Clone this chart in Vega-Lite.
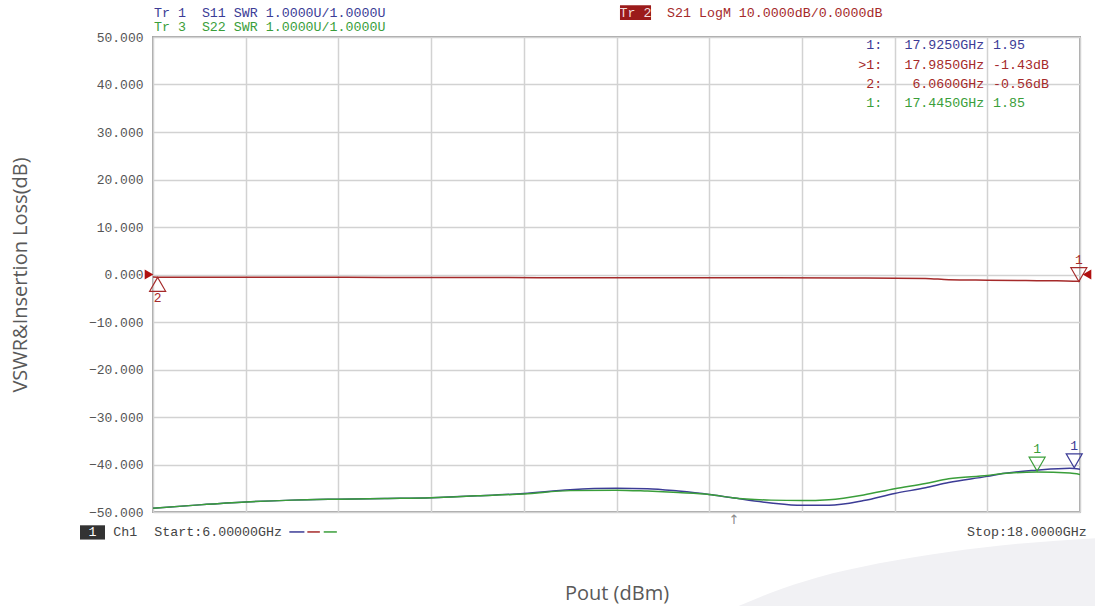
{
  "$schema": "https://vega.github.io/schema/vega-lite/v6.json",
  "width": 927,
  "height": 475,
  "autosize": {"type": "none"},
  "padding": {"left": 153, "top": 37, "right": 15, "bottom": 94},
  "background": "white",
  "config": {
    "view": {"stroke": "#a6a6a6", "strokeWidth": 2},
    "axis": {"gridColor": "#d2d2d2", "gridWidth": 1.5, "gridOpacity": 1}
  },
  "datasets": {
    "traces": [
      {"f": 6.0, "v": -0.55, "trace": "S21"}, {"f": 6.06, "v": -0.56, "trace": "S21"}, {"f": 7.0, "v": -0.56, "trace": "S21"},
      {"f": 8.0, "v": -0.58, "trace": "S21"}, {"f": 9.0, "v": -0.62, "trace": "S21"}, {"f": 10.0, "v": -0.64, "trace": "S21"},
      {"f": 11.0, "v": -0.66, "trace": "S21"}, {"f": 12.0, "v": -0.66, "trace": "S21"}, {"f": 13.0, "v": -0.68, "trace": "S21"},
      {"f": 14.0, "v": -0.7, "trace": "S21"}, {"f": 15.0, "v": -0.74, "trace": "S21"}, {"f": 16.0, "v": -0.82, "trace": "S21"},
      {"f": 16.3, "v": -1.1, "trace": "S21"}, {"f": 16.8, "v": -1.2, "trace": "S21"}, {"f": 17.3, "v": -1.28, "trace": "S21"},
      {"f": 17.7, "v": -1.33, "trace": "S21"}, {"f": 17.985, "v": -1.43, "trace": "S21"}, {"f": 18.0, "v": -1.43, "trace": "S21"},

      {"f": 6.0, "v": -49.2, "trace": "S11"}, {"f": 6.6, "v": -48.5, "trace": "S11"}, {"f": 7.2, "v": -47.9, "trace": "S11"},
      {"f": 7.8, "v": -47.5, "trace": "S11"}, {"f": 8.4, "v": -47.3, "trace": "S11"}, {"f": 9.0, "v": -47.15, "trace": "S11"},
      {"f": 9.6, "v": -47.0, "trace": "S11"}, {"f": 10.2, "v": -46.6, "trace": "S11"}, {"f": 10.8, "v": -46.1, "trace": "S11"},
      {"f": 11.4, "v": -45.3, "trace": "S11"}, {"f": 12.0, "v": -45.0, "trace": "S11"}, {"f": 12.4, "v": -45.1, "trace": "S11"},
      {"f": 12.8, "v": -45.6, "trace": "S11"}, {"f": 13.2, "v": -46.3, "trace": "S11"}, {"f": 13.5, "v": -47.0, "trace": "S11"},
      {"f": 14.0, "v": -48.1, "trace": "S11"}, {"f": 14.4, "v": -48.6, "trace": "S11"}, {"f": 14.75, "v": -48.6, "trace": "S11"},
      {"f": 15.2, "v": -47.6, "trace": "S11"}, {"f": 15.6, "v": -46.1, "trace": "S11"}, {"f": 16.0, "v": -44.9, "trace": "S11"},
      {"f": 16.3, "v": -43.8, "trace": "S11"}, {"f": 16.8, "v": -42.5, "trace": "S11"}, {"f": 17.0, "v": -41.9, "trace": "S11"},
      {"f": 17.44, "v": -41.2, "trace": "S11"}, {"f": 17.87, "v": -40.8, "trace": "S11"}, {"f": 18.0, "v": -41.0, "trace": "S11"},

      {"f": 6.0, "v": -49.2, "trace": "S22"}, {"f": 6.6, "v": -48.5, "trace": "S22"}, {"f": 7.2, "v": -47.9, "trace": "S22"},
      {"f": 7.8, "v": -47.5, "trace": "S22"}, {"f": 8.4, "v": -47.3, "trace": "S22"}, {"f": 9.0, "v": -47.15, "trace": "S22"},
      {"f": 9.6, "v": -47.0, "trace": "S22"}, {"f": 10.2, "v": -46.6, "trace": "S22"}, {"f": 10.8, "v": -46.2, "trace": "S22"},
      {"f": 11.4, "v": -45.5, "trace": "S22"}, {"f": 12.0, "v": -45.4, "trace": "S22"}, {"f": 12.4, "v": -45.6, "trace": "S22"},
      {"f": 12.8, "v": -45.9, "trace": "S22"}, {"f": 13.2, "v": -46.3, "trace": "S22"}, {"f": 13.5, "v": -47.0, "trace": "S22"},
      {"f": 14.0, "v": -47.5, "trace": "S22"}, {"f": 14.4, "v": -47.6, "trace": "S22"}, {"f": 14.75, "v": -47.4, "trace": "S22"},
      {"f": 15.2, "v": -46.4, "trace": "S22"}, {"f": 15.6, "v": -45.1, "trace": "S22"}, {"f": 16.0, "v": -44.0, "trace": "S22"},
      {"f": 16.3, "v": -43.0, "trace": "S22"}, {"f": 16.8, "v": -42.3, "trace": "S22"}, {"f": 17.0, "v": -41.9, "trace": "S22"},
      {"f": 17.44, "v": -41.6, "trace": "S22"}, {"f": 17.87, "v": -41.8, "trace": "S22"}, {"f": 18.0, "v": -42.1, "trace": "S22"}
    ],
    "markers": [
      {"f": 17.925, "v": -40.7, "trace": "S11", "label": "1", "dir": "down"},
      {"f": 17.445, "v": -41.4, "trace": "S22", "label": "1", "dir": "down"},
      {"f": 17.985, "v": -1.5, "trace": "S21", "label": "1", "dir": "down"},
      {"f": 6.06, "v": -0.6, "trace": "S21", "label": "2", "dir": "up"}
    ],
    "refs": [
      {"f": 6.0, "v": 0, "side": "left"},
      {"f": 18.0, "v": 0, "side": "right"}
    ],
    "boxes": [
      {"f": 12.045, "f2": 12.447, "v": 56.7, "v2": 53.6, "kind": "tr2"},
      {"f": 5.055, "f2": 5.379, "v": -52.8, "v2": -55.8, "kind": "ch"}
    ],
    "dashes": [
      {"f": 7.765, "f2": 7.96, "v": -54.2, "trace": "S11"},
      {"f": 7.998, "f2": 8.16, "v": -54.2, "trace": "S21"},
      {"f": 8.21, "f2": 8.38, "v": -54.2, "trace": "S22"}
    ],
    "swoosh": [
      {"f": 13.55, "v": -70.0},
      {"f": 14.0, "v": -67.0},
      {"f": 14.6, "v": -63.8},
      {"f": 15.4, "v": -60.8},
      {"f": 16.3, "v": -58.4},
      {"f": 17.2, "v": -56.7},
      {"f": 18.2, "v": -55.5}
    ],
    "texts": [
      {"f": 6.013, "v": 55.0, "text": "Tr 1\u00a0\u00a0S11 SWR 1.0000U/1.0000U", "trace": "S11", "col": "left"},
      {"f": 6.013, "v": 52.05, "text": "Tr 3\u00a0\u00a0S22 SWR 1.0000U/1.0000U", "trace": "S22", "col": "left"},
      {"f": 12.654, "v": 55.0, "text": "S21 LogM 10.0000dB/0.0000dB", "trace": "S21", "col": "left"},
      {"f": 12.246, "v": 55.15, "text": "Tr 2", "trace": "inv", "col": "center"},
      {"f": 15.44, "v": 48.25, "text": "1:", "trace": "S11", "col": "right"},
      {"f": 15.44, "v": 44.2, "text": ">1:", "trace": "S21", "col": "right"},
      {"f": 15.44, "v": 40.2, "text": "2:", "trace": "S21", "col": "right"},
      {"f": 15.44, "v": 36.2, "text": "1:", "trace": "S22", "col": "right"},
      {"f": 16.76, "v": 48.25, "text": "17.9250GHz", "trace": "S11", "col": "right"},
      {"f": 16.76, "v": 44.2, "text": "17.9850GHz", "trace": "S21", "col": "right"},
      {"f": 16.76, "v": 40.2, "text": "6.0600GHz", "trace": "S21", "col": "right"},
      {"f": 16.76, "v": 36.2, "text": "17.4450GHz", "trace": "S22", "col": "right"},
      {"f": 16.875, "v": 48.25, "text": "1.95", "trace": "S11", "col": "left"},
      {"f": 16.875, "v": 44.2, "text": "-1.43dB", "trace": "S21", "col": "left"},
      {"f": 16.875, "v": 40.2, "text": "-0.56dB", "trace": "S21", "col": "left"},
      {"f": 16.875, "v": 36.2, "text": "1.85", "trace": "S22", "col": "left"},
      {"f": 5.217, "v": -54.25, "text": "1", "trace": "white", "col": "center"},
      {"f": 5.486, "v": -54.25, "text": "Ch1", "trace": "ch", "col": "left"},
      {"f": 6.017, "v": -54.25, "text": "Start:6.00000GHz", "trace": "ch", "col": "left"},
      {"f": 18.087, "v": -54.25, "text": "Stop:18.0000GHz", "trace": "ch", "col": "right"}
    ]
  },
  "layer": [
    {
      "data": {"name": "swoosh"},
      "mark": {"type": "area", "color": "#f1f1f4", "interpolate": "monotone", "opacity": 1},
      "encoding": {
        "x": {"field": "f", "type": "quantitative"},
        "y": {"field": "v", "type": "quantitative"},
        "y2": {"datum": -70}
      }
    },
    {
      "data": {"name": "traces"},
      "mark": {"type": "line", "strokeWidth": 1.5, "interpolate": "monotone", "clip": true},
      "encoding": {
        "x": {
          "field": "f", "type": "quantitative",
          "scale": {"domain": [6, 18], "nice": false, "zero": false},
          "axis": {
            "values": [6, 7.2, 8.4, 9.6, 10.8, 12, 13.2, 14.4, 15.6, 16.8, 18],
            "labels": false, "ticks": false, "domain": false, "grid": true,
            "title": "Pout (dBm)", "titleFont": "Open Sans", "titleFontSize": 20,
            "titleFontWeight": "normal", "titleColor": "#595959",
            "titleY": 81, "titleBaseline": "middle"
          }
        },
        "y": {
          "field": "v", "type": "quantitative",
          "scale": {"domain": [-50, 50], "nice": false, "zero": false},
          "axis": {
            "values": [-50, -40, -30, -20, -10, 0, 10, 20, 30, 40, 50],
            "format": ".3f", "labelFont": "Liberation Mono", "labelFontSize": 13,
            "labelColor": "#555555", "labelPadding": 10, "ticks": false, "domain": false, "grid": true,
            "title": "VSWR&Insertion Loss(dB)", "titleFont": "Open Sans", "titleFontSize": 20,
            "titleFontWeight": "normal", "titleColor": "#595959",
            "titleX": -133, "titleY": 237.5, "titleAngle": 270, "titleBaseline": "middle"
          }
        },
        "detail": {"field": "trace"},
        "color": {
          "field": "trace", "type": "nominal", "legend": null,
          "scale": {"domain": ["S11", "S21", "S22", "ch", "inv", "white"], "range": ["#3c3c96", "#a52a2a", "#3a9e3a", "#444444", "#f4dcdc", "#ffffff"]}
        }
      }
    },
    {
      "data": {"name": "markers"},
      "transform": [{"filter": "datum.dir === 'down'"}],
      "mark": {"type": "point", "shape": "triangle-down", "size": 256, "filled": false, "strokeWidth": 1.2, "yOffset": -7, "opacity": 1},
      "encoding": {
        "x": {"field": "f", "type": "quantitative"},
        "y": {"field": "v", "type": "quantitative"},
        "color": {"field": "trace", "type": "nominal", "legend": null}
      }
    },
    {
      "data": {"name": "markers"},
      "transform": [{"filter": "datum.dir === 'up'"}],
      "mark": {"type": "point", "shape": "triangle-up", "size": 256, "filled": false, "strokeWidth": 1.2, "yOffset": 7, "opacity": 1},
      "encoding": {
        "x": {"field": "f", "type": "quantitative"},
        "y": {"field": "v", "type": "quantitative"},
        "color": {"field": "trace", "type": "nominal", "legend": null}
      }
    },
    {
      "data": {"name": "markers"},
      "transform": [{"filter": "datum.dir === 'down'"}],
      "mark": {"type": "text", "font": "Liberation Mono", "fontSize": 13, "dy": -22, "baseline": "middle"},
      "encoding": {
        "x": {"field": "f", "type": "quantitative"},
        "y": {"field": "v", "type": "quantitative"},
        "text": {"field": "label"},
        "color": {"field": "trace", "type": "nominal", "legend": null}
      }
    },
    {
      "data": {"name": "markers"},
      "transform": [{"filter": "datum.dir === 'up'"}],
      "mark": {"type": "text", "font": "Liberation Mono", "fontSize": 13, "dy": 21, "baseline": "middle"},
      "encoding": {
        "x": {"field": "f", "type": "quantitative"},
        "y": {"field": "v", "type": "quantitative"},
        "text": {"field": "label"},
        "color": {"field": "trace", "type": "nominal", "legend": null}
      }
    },
    {
      "data": {"name": "refs"},
      "transform": [{"filter": "datum.side === 'left'"}],
      "mark": {"type": "point", "shape": "triangle-right", "size": 100, "filled": true, "color": "#b01010", "opacity": 1, "xOffset": -4},
      "encoding": {
        "x": {"field": "f", "type": "quantitative"},
        "y": {"field": "v", "type": "quantitative"}
      }
    },
    {
      "data": {"name": "refs"},
      "transform": [{"filter": "datum.side === 'right'"}],
      "mark": {"type": "point", "shape": "triangle-left", "size": 100, "filled": true, "color": "#b01010", "opacity": 1, "xOffset": 7},
      "encoding": {
        "x": {"field": "f", "type": "quantitative"},
        "y": {"field": "v", "type": "quantitative"}
      }
    },
    {
      "data": {"name": "boxes"},
      "mark": {"type": "rect"},
      "encoding": {
        "x": {"field": "f", "type": "quantitative"},
        "x2": {"field": "f2"},
        "y": {"field": "v", "type": "quantitative"},
        "y2": {"field": "v2"},
        "fill": {"field": "kind", "type": "nominal", "legend": null,
          "scale": {"domain": ["tr2", "ch"], "range": ["#9b1b1b", "#333333"]}}
      }
    },
    {
      "data": {"name": "dashes"},
      "mark": {"type": "rule", "strokeWidth": 1.5},
      "encoding": {
        "x": {"field": "f", "type": "quantitative"},
        "x2": {"field": "f2"},
        "y": {"field": "v", "type": "quantitative"},
        "color": {"field": "trace", "type": "nominal", "legend": null}
      }
    },
    {
      "data": {"name": "texts"},
      "transform": [{"filter": "datum.col === 'left'"}],
      "mark": {"type": "text", "font": "Liberation Mono", "fontSize": 13.3, "align": "left", "baseline": "middle"},
      "encoding": {
        "x": {"field": "f", "type": "quantitative"},
        "y": {"field": "v", "type": "quantitative"},
        "text": {"field": "text"},
        "color": {"field": "trace", "type": "nominal", "legend": null}
      }
    },
    {
      "data": {"name": "texts"},
      "transform": [{"filter": "datum.col === 'right'"}],
      "mark": {"type": "text", "font": "Liberation Mono", "fontSize": 13.3, "align": "right", "baseline": "middle"},
      "encoding": {
        "x": {"field": "f", "type": "quantitative"},
        "y": {"field": "v", "type": "quantitative"},
        "text": {"field": "text"},
        "color": {"field": "trace", "type": "nominal", "legend": null}
      }
    },
    {
      "data": {"name": "texts"},
      "transform": [{"filter": "datum.col === 'center'"}],
      "mark": {"type": "text", "font": "Liberation Mono", "fontSize": 13.3, "align": "center", "baseline": "middle"},
      "encoding": {
        "x": {"field": "f", "type": "quantitative"},
        "y": {"field": "v", "type": "quantitative"},
        "text": {"field": "text"},
        "color": {"field": "trace", "type": "nominal", "legend": null}
      }
    },
    {
      "data": {"values": [{"f": 13.52, "v": -51.6, "text": "↑"}]},
      "mark": {"type": "text", "font": "DejaVu Sans", "fontSize": 13, "color": "#8a8a8a", "baseline": "middle"},
      "encoding": {
        "x": {"field": "f", "type": "quantitative"},
        "y": {"field": "v", "type": "quantitative"},
        "text": {"field": "text"}
      }
    }
  ]
}
